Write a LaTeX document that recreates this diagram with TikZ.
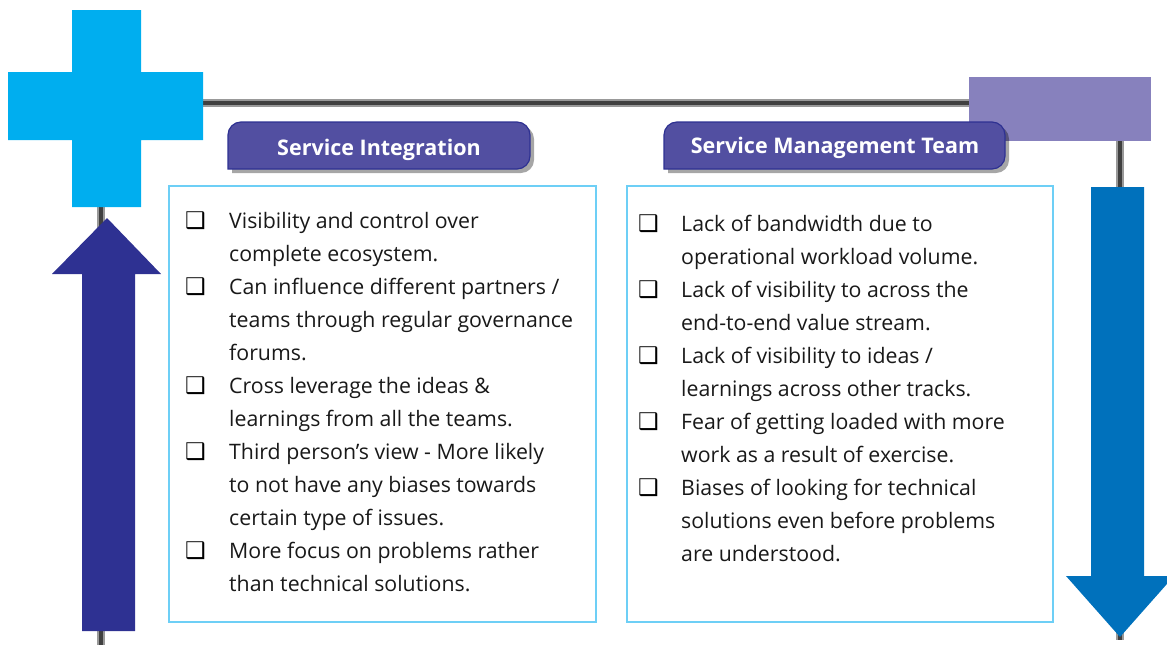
\documentclass[tikz,border=0pt]{standalone}
\usepackage{fontspec}
\setmainfont{Open Sans}
\newfontfamily\djv{DejaVu Sans}
\definecolor{plusblue}{HTML}{00AEEF}
\definecolor{arrownavy}{HTML}{2E3192}
\definecolor{arrowblue}{HTML}{0071BC}
\definecolor{lav}{HTML}{8781BD}
\definecolor{tabfill}{HTML}{524FA1}
\definecolor{tabedge}{HTML}{2E3192}
\definecolor{boxcyan}{HTML}{6DCFF6}
\tikzset{
  railouter/.style={line width=8pt, color=black!40},
  railinner/.style={line width=4.5pt, color=black!75},
  panel/.style={draw=boxcyan, line width=2.6pt, fill=white, inner sep=0pt},
  tab/.style={fill=tabfill, draw=tabedge, line width=1.2pt},
  tabshadow/.style={fill=black, opacity=0.35},
  tabtext/.style={text=white, font=\bfseries\fontsize{21.5}{25}\selectfont, inner sep=0pt, anchor=base},
  itemtext/.style={anchor=base west, inner sep=0pt, text=black!90, font=\fontsize{21.3}{25}\selectfont},
  chk/.style={anchor=base west, inner sep=0pt, text=black, font=\djv\fontsize{23}{26}\selectfont}
}
\begin{document}
\begin{tikzpicture}[x=1pt,y=-1pt]
\useasboundingbox (0,0) rectangle (1167,645);
\clip (0,0) rectangle (1167,645);
% rails
\coordinate (bl) at (101,645);
\coordinate (tl) at (101,103);
\coordinate (tr) at (1120,103);
\coordinate (br) at (1120,640);
\draw[railouter] (bl) -- (tl) -- (tr) -- (br);
\draw[railinner] (bl) -- (tl) -- (tr) -- (br);
% plus sign
\fill[plusblue] (72,10) -- (141,10) -- (141,72) -- (203,72) -- (203,140) -- (141,140)
  -- (141,207) -- (72,207) -- (72,140) -- (8,140) -- (8,72) -- (72,72) -- cycle;
% lavender block
\fill[lav] (969,77) rectangle (1151,141);
% up arrow
\fill[arrownavy] (82,631) -- (82,274) -- (52,274) -- (107,218) -- (161,274) -- (135,274) -- (135,631) -- cycle;
% down arrow
\fill[arrowblue] (1091,187) -- (1091,576) -- (1066,576) -- (1120,637) -- (1174,576) -- (1144,576) -- (1144,187) -- cycle;
% panels
\node[panel, minimum width=427pt, minimum height=436pt] (lbox) at (382.5,404) {};
\node[panel, minimum width=426pt, minimum height=436pt] (rbox) at (840,404) {};
% tabs (shadow then body)
\path[tabshadow] (232,173) [rounded corners=13pt] -- (232,126) -- (534,126) -- (534,173) [sharp corners] -- cycle;
\path[tab] (228,169) [rounded corners=13pt] -- (228,122) -- (530,122) -- (530,169) [sharp corners] -- cycle;
\node[tabtext] (t1) at (379,155) {Service Integration};
\path[tabshadow] (668,173) [rounded corners=13pt] -- (668,126) -- (1009,126) -- (1009,173) [sharp corners] -- cycle;
\path[tab] (664,169) [rounded corners=13pt] -- (664,122) -- (1005,122) -- (1005,169) [sharp corners] -- cycle;
\node[tabtext] (t2) at (835,153) {Service Management Team};
% left items
\foreach \t [count=\i] in {Visibility and control over, complete ecosystem.,
  Can influence different partners /, teams through regular governance, forums.,
  Cross leverage the ideas \&, learnings from all the teams.,
  Third person’s view - More likely, to not have any biases towards, certain type of issues.,
  More focus on problems rather, than technical solutions.}
  \node[itemtext] (L\i) at (229,{228+33*(\i-1)}) {\t};
\foreach \i in {1,3,6,8,11}
  \node[chk] (LC\i) at (185,{228+33*(\i-1)}) {❑};
% right items
\foreach \t [count=\i] in {Lack of bandwidth due to, operational workload volume.,
  Lack of visibility to across the, end-to-end value stream.,
  Lack of visibility to ideas /, learnings across other tracks.,
  Fear of getting loaded with more, work as a result of exercise.,
  Biases of looking for technical, solutions even before problems, are understood.}
  \node[itemtext] (R\i) at (681,{231+33*(\i-1)}) {\t};
\foreach \i in {1,3,5,7,9}
  \node[chk] (RC\i) at (638,{231+33*(\i-1)}) {❑};
\end{tikzpicture}
\end{document}
